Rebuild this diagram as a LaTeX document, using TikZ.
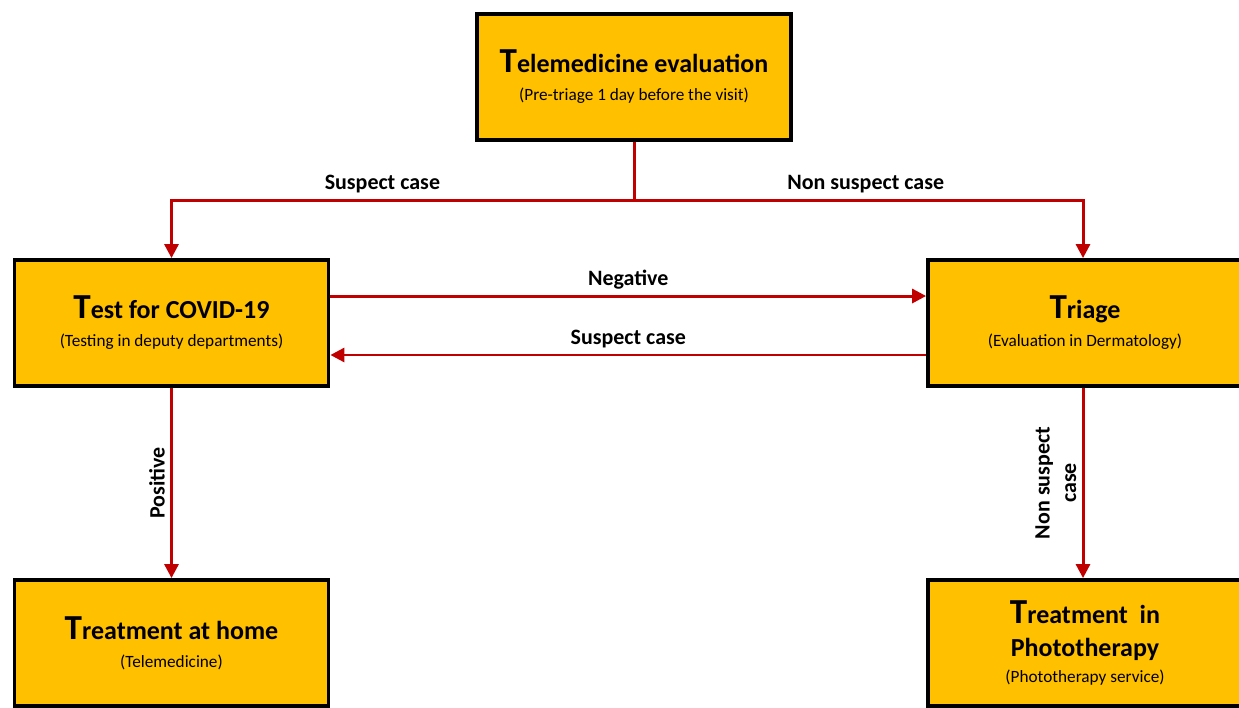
\documentclass[tikz,border=0pt]{standalone}
\usepackage{fontspec}
\setmainfont{Carlito}
\usepackage{tikz}
\usetikzlibrary{positioning,arrows.meta}
\definecolor{boxfill}{HTML}{FFC000}
\definecolor{flowred}{HTML}{C00000}
\tikzset{
	very thick/.style= {line width=2.2pt}
}
\tikzstyle{block} = [rectangle, draw=black, very thick, fill=boxfill, align=center, minimum width=6.28cm, minimum height=2.52cm, inner sep=2pt]
\tikzstyle{line} = [draw=flowred, line width=1.7pt]
\tikzstyle{arrow} = [draw=flowred, line width=1.7pt, -{Triangle[length=8pt,width=8pt]}]
\tikzstyle{lab} = [font=\fontsize{12.5}{15}\selectfont\bfseries, inner sep=3pt]
\newcommand{\capT}[1]{{\fontsize{20}{20}\selectfont #1}}
\newcommand{\boxtitle}[1]{{\fontsize{14.8}{19}\selectfont\bfseries #1}}
\newcommand{\boxsub}[1]{{\fontsize{9.8}{12}\selectfont #1}}

\begin{document}
\begin{tikzpicture}[x=0.02cm, y=-0.02cm]
	\useasboundingbox (0,0) rectangle (1239,707);
	\clip (0,0) rectangle (1239,707);
		\node[block] (tele) at (634,77) {\boxtitle{\capT{T}elemedicine evaluation}\\[4pt]\boxsub{(Pre-triage 1 day before the visit)}};
		\node[block] (test) at (171.5,323) {\boxtitle{\capT{T}est for COVID-19}\\[4pt]\boxsub{(Testing in deputy departments)}};
		\node[block] (triage) at (1085,323) {\boxtitle{\capT{T}riage}\\[4pt]\boxsub{(Evaluation in Dermatology)}};
		\node[block] (home) at (171.5,643) {\boxtitle{\capT{T}reatment at home}\\[4pt]\boxsub{(Telemedicine)}};
		\node[block] (photo) at (1085,643) {\boxtitle{\capT{T}reatment \ in}\\[7pt]\boxtitle{Phototherapy}\\[3pt]\boxsub{(Phototherapy service)}};
		\coordinate (split) at (634,200);
		% first evaluation
		\draw[line] (tele) -- (split);
		\draw[arrow] (split) -| node[lab, pos=0.272, above] (suspect) {Suspect case} (test);
		\draw[arrow] (split) -| node[lab, pos=0.258, above] (nonsuspect) {Non suspect case} ([xshift=-0.04cm]triage.north);
		% between test and triage
		\draw[arrow] ([yshift=0.54cm]test.east) -- node[lab, above] (neg) {Negative} ([yshift=0.54cm]triage.west);
		\draw[arrow] ([yshift=-0.64cm]triage.west) -- node[lab, above] (back) {Suspect case} ([yshift=-0.64cm]test.east);
		% treatments
		\draw[arrow] (test) -- node[lab, midway, rotate=90, anchor=south] (pos) {Positive} (home);
		\draw[arrow] ([xshift=-0.04cm]triage.south) -- node[lab, midway, rotate=90, anchor=south, align=center] (nonsus) {Non suspect\\case} ([xshift=-0.04cm]photo.north);
	\end{tikzpicture}
\end{document}
